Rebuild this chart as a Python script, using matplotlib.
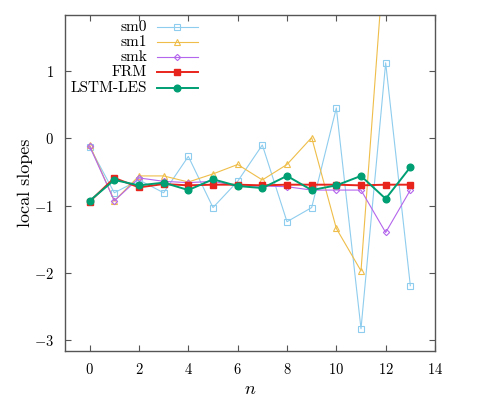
import matplotlib
matplotlib.use("Agg")
import matplotlib.pyplot as plt

plt.rcParams['font.family'] = 'serif'
plt.rcParams['font.serif'] = ['cmr10', 'DejaVu Serif']
plt.rcParams['mathtext.fontset'] = 'cm'
plt.rcParams['axes.formatter.use_mathtext'] = True

n = list(range(14))
sm0 = [-0.13, -0.81, -0.62, -0.81, -0.27, -1.03, -0.64, -0.10, -1.24, -1.03, 0.45, -2.83, 1.12, -2.19]
n_sm1 = list(range(13))
sm1 = [-0.10, -0.93, -0.56, -0.56, -0.65, -0.53, -0.39, -0.62, -0.39, 0.01, -1.34, -1.97, 3.0]
smk = [-0.12, -0.93, -0.59, -0.64, -0.66, -0.64, -0.71, -0.71, -0.72, -0.77, -0.77, -0.77, -1.40, -0.77]
frm = [-0.94, -0.59, -0.73, -0.68, -0.70, -0.69, -0.69, -0.70, -0.69, -0.69, -0.69, -0.70, -0.69, -0.69]
lstm = [-0.93, -0.62, -0.70, -0.66, -0.77, -0.61, -0.71, -0.74, -0.56, -0.77, -0.70, -0.56, -0.90, -0.43]

labels = ['sm0', 'sm1', 'smk', 'FRM', 'LSTM-LES']
colors = ['#8fcdee', '#efbe4a', '#b466ec', '#e8251c', '#009e73']

fig = plt.figure(figsize=(5, 4), dpi=100)
ax = fig.add_axes([0.13, 0.1225, 0.74, 0.84])

styles = [
    dict(color=colors[0], lw=0.8, marker='s', ms=4.5, mfc='none', mec=colors[0], mew=0.8),
    dict(color=colors[1], lw=0.8, marker='^', ms=4, mfc='none', mec=colors[1], mew=0.8),
    dict(color=colors[2], lw=0.8, marker='D', ms=3.2, mfc='none', mec=colors[2], mew=0.8),
    dict(color=colors[3], lw=1.4, marker='s', ms=5, mfc=colors[3], mec=colors[3]),
    dict(color=colors[4], lw=1.4, marker='o', ms=4.8, mfc=colors[4], mec=colors[4]),
]
xs = [n, n_sm1, n, n, n]
ys = [sm0, sm1, smk, frm, lstm]
for x, y, st in zip(xs, ys, styles):
    ax.plot(x, y, **st)

ax.set_xlim(-1, 14)
ax.set_ylim(-3.16, 1.83)
ax.set_xticks([0, 2, 4, 6, 8, 10, 12, 14])
ax.set_yticks([-3, -2, -1, 0, 1])
ax.tick_params(direction='in', top=True, right=True, labelsize=10.5, length=4, width=0.8, color='#555555', pad=8)
for s in ax.spines.values():
    s.set_color('#555555')
    s.set_linewidth(1.0)
ax.set_xlabel('$n$', fontsize=13, labelpad=3)
ax.set_ylabel('local slopes', fontsize=13, labelpad=1)

# legend (manual, right-aligned labels)
rows = [0.965, 0.919, 0.874, 0.830, 0.782]
for lab, st, yy in zip(labels, styles, rows):
    st2 = dict(st)
    ax.plot([0.249, 0.359], [yy, yy], transform=ax.transAxes, color=st2['color'], lw=st2['lw'], clip_on=False)
    st2.pop('lw')
    ax.plot([0.304], [yy], transform=ax.transAxes, ls='none', clip_on=False, **st2)
    ax.text(0.222, yy, lab, transform=ax.transAxes, ha='right', va='center', fontsize=11)

fig.savefig('out.png', dpi=100)
